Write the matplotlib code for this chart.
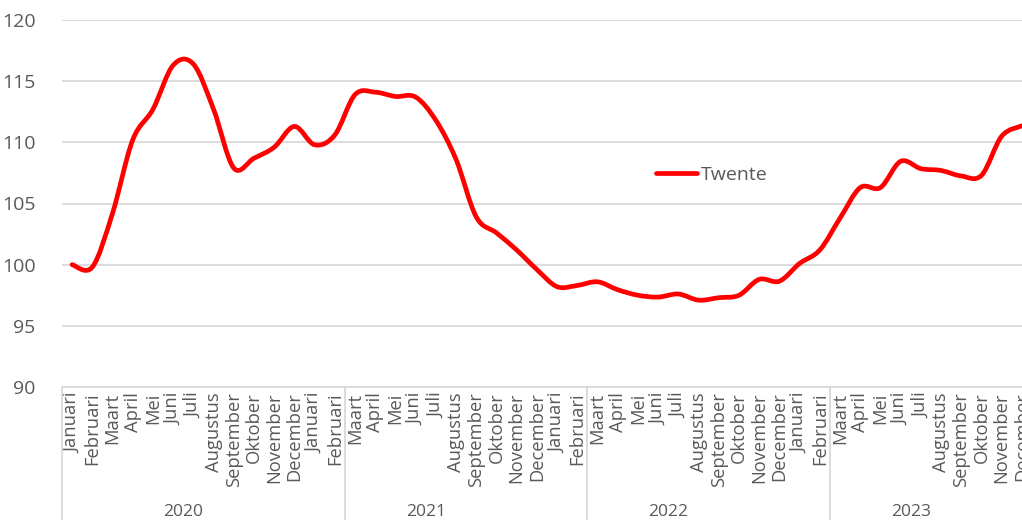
import numpy as np
import matplotlib
matplotlib.use("Agg")
import matplotlib.pyplot as plt
from matplotlib.path import Path
from matplotlib.patches import PathPatch
from matplotlib.lines import Line2D

plt.rcParams['font.family'] = ['Open Sans', 'DejaVu Sans']

MONTHS = ["Januari", "Februari", "Maart", "April", "Mei", "Juni", "Juli",
          "Augustus", "September", "Oktober", "November", "December"]
LABELS = MONTHS * 4
YEARS = ["2020", "2021", "2022", "2023"]
SEPARATORS = [-0.5, 13.5, 25.5, 37.5]

twente = [100.0, 99.8, 104.2, 110.2, 112.7, 116.3, 116.4, 112.7, 107.9, 108.7,
          109.6, 111.3, 109.8, 110.6, 113.9, 114.1, 113.75, 113.7, 111.8, 108.6,
          103.9, 102.6, 101.2, 99.6, 98.2, 98.3, 98.6, 97.95, 97.5, 97.35,
          97.6, 97.1, 97.3, 97.5, 98.8, 98.65, 100.1, 101.2, 103.8, 106.3,
          106.3, 108.45, 107.85, 107.7, 107.25, 107.3, 110.5, 111.35]

GREY = '#595959'
GRID = '#d9d9d9'
RED = '#ff0000'


def smooth_path(x, y):
    # Excel-like smoothed line: Catmull-Rom segments as cubic Bezier
    pts = np.column_stack([x, y])
    ext = np.vstack([pts[0], pts, pts[-1]])
    verts = [pts[0]]
    codes = [Path.MOVETO]
    for i in range(1, len(ext) - 2):
        p0, p1, p2, p3 = ext[i - 1], ext[i], ext[i + 1], ext[i + 2]
        verts += [p1 + (p2 - p0) / 6, p2 - (p3 - p1) / 6, p2]
        codes += [Path.CURVE4] * 3
    return Path(verts, codes)


fig = plt.figure(figsize=(10.22, 5.20), dpi=100)
ax = fig.add_axes([62 / 1022, 1 - 387 / 520, 970 / 1022, 367 / 520])

x = np.arange(len(twente))
ax.add_patch(PathPatch(smooth_path(x, np.array(twente)), fill=False,
                       edgecolor=RED, lw=3.4, capstyle='round',
                       joinstyle='round', zorder=3))

ax.set_xlim(-0.5, len(twente) - 0.5)
ax.set_ylim(90, 120)
ax.set_yticks(range(90, 121, 5))
ax.yaxis.grid(True, color=GRID, lw=1.3)
ax.set_axisbelow(True)
for s in ['top', 'right', 'left']:
    ax.spines[s].set_visible(False)
ax.spines['bottom'].set_color(GRID)
ax.spines['bottom'].set_linewidth(1.3)

ax.set_xticks(x)
ax.set_xticklabels(LABELS, rotation=90, va='top', ha='center',
                   fontsize=13.2, color=GREY)
ax.tick_params(axis='x', length=0, pad=4)
ax.tick_params(axis='y', length=0, pad=19, labelsize=14, labelcolor=GREY)

# category group separators and year labels
for s in SEPARATORS:
    ax.add_line(Line2D([s, s], [0, -0.5], transform=ax.get_xaxis_transform(),
                       color=GRID, lw=1.3, clip_on=False))
for k, yr in enumerate(YEARS):
    ax.text(5.5 + 12 * k, -0.341, yr, transform=ax.get_xaxis_transform(),
            ha='center', va='center', fontsize=12.5, color=GREY)

handle = Line2D([], [], color=RED, lw=3.4, solid_capstyle='round')
ax.legend([handle], ['Twente'], loc='center left', frameon=False,
          bbox_to_anchor=(656 / 1022, 1 - 175 / 520),
          bbox_transform=fig.transFigure, borderpad=0, borderaxespad=0,
          handlelength=2.1, handletextpad=0.2, fontsize=14,
          labelcolor=GREY)

fig.savefig("out.png", dpi=100)
